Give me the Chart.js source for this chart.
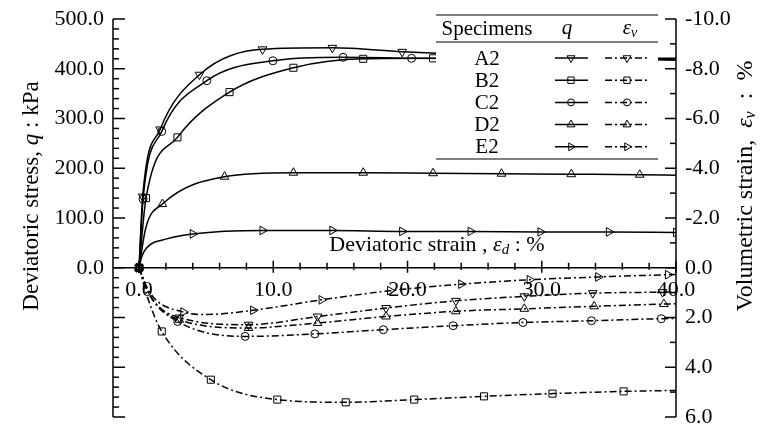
<!DOCTYPE html>
<html>
<head>
<meta charset="utf-8">
<script src="https://cdn.jsdelivr.net/npm/chart.js@4.4.1/dist/chart.umd.min.js"></script>
<style>
    body { margin: 0; background: #fff; }
</style>
</head>
<body>
<canvas id="chart" width="762" height="428"></canvas>
<script>
// values: [deviatoric strain %, value]
var specimens = ["A2", "B2", "C2", "D2", "E2"];

// deviatoric stress q (kPa), points that carry a symbol
var qA2 = [[0,0],[0.27,143],[1.57,278],[4.5,388],[9.2,439],[14.4,442],[19.6,434],[24.8,428],[30,424],[35.1,420]];
var qB2 = [[0,0],[0.52,140],[2.86,262],[6.74,353],[11.5,402],[16.7,420],[21.9,421],[27,421],[32.2,421],[37.3,421]];
var qC2 = [[0,0],[0.3,138],[1.69,274],[5.05,376],[9.97,416],[15.2,423],[20.3,421],[25.5,420],[30.7,420],[35.8,419]];
var qD2 = [[0,0],[1.74,128],[6.37,183],[11.5,191],[16.7,191],[21.9,190],[27,189],[32.2,188],[37.3,187]];
var qE2 = [[0,0],[4,68],[9.2,75],[14.4,75],[19.6,73],[24.7,73],[29.9,72],[35,72],[40,71]];
// extra points on the q curves without a symbol
var qA2Line = [[40,417]];
var qB2Line = [[40,421]];
var qC2Line = [[40,419]];
var qD2Line = [[0.5,80],[40,186]];
var qE2Line = [[0.2,22],[0.57,40],[2.07,58]];

// volumetric strain (%), compression positive
var evA2 = [[0,0],[3,2.0],[8.16,2.29],[13.3,1.96],[18.4,1.62],[23.6,1.33],[28.7,1.15],[33.8,1.02],[39,0.98]];
var evB2 = [[0,0],[1.69,2.56],[5.35,4.5],[10.3,5.3],[15.4,5.41],[20.5,5.3],[25.7,5.17],[30.8,5.06],[36.1,4.97]];
var evC2 = [[0,0],[2.88,2.16],[7.9,2.76],[13.1,2.66],[18.2,2.49],[23.4,2.33],[28.6,2.2],[33.7,2.13],[38.9,2.05]];
var evD2 = [[0,0],[3,2.09],[8.16,2.42],[13.3,2.22],[18.4,1.96],[23.6,1.75],[28.7,1.65],[33.9,1.55],[39.1,1.46]];
var evE2 = [[0,0],[3.3,1.78],[8.5,1.71],[13.6,1.29],[18.7,0.92],[24,0.66],[29.1,0.48],[34.2,0.37],[39.4,0.28]];
var evA2Line = [[0.8,1.1],[40,0.97]];
var evB2Line = [[0.7,1.3],[40,4.93]];
var evC2Line = [[0.8,1.1],[40,2.04]];
var evD2Line = [[0.8,1.1],[40,1.45]];
var evE2Line = [[0.8,1.0],[5,1.88],[40,0.27]];

// axis ticks
var qTicks = [0, 100, 200, 300, 400, 500];
var evTicks = [-10, -8, -6, -4, -2, 0, 2, 4, 6];
var strainTicks = [0, 10, 20, 30, 40];

var FONT = '"Liberation Serif", "Times New Roman", serif';
var styles = {
    A2: { pointStyle: 'triangle', rotation: 180, radius: 5 },
    B2: { pointStyle: 'rect', rotation: 0, radius: 5 },
    C2: { pointStyle: 'circle', rotation: 0, radius: 4 },
    D2: { pointStyle: 'triangle', rotation: 0, radius: 5 },
    E2: { pointStyle: 'triangle', rotation: 90, radius: 5 }
};
var DASH = [7, 3, 2, 3];

function merge(marks, extra) {
    var pts = marks.map(function (p) { return { x: p[0], y: p[1], m: true }; });
    extra.forEach(function (p) { pts.push({ x: p[0], y: p[1], m: false }); });
    pts.sort(function (a, b) { return a.x - b.x; });
    return pts;
}

function makeSet(name, marks, extra, axis, dashed) {
    var st = styles[name];
    return {
        label: name + (dashed ? ' ev' : ' q'),
        data: merge(marks, extra),
        yAxisID: axis,
        showLine: true,
        borderColor: '#000',
        borderWidth: 1.5,
        borderDash: dashed ? DASH : [],
        backgroundColor: 'rgba(0,0,0,0)',
        cubicInterpolationMode: 'monotone',
        pointStyle: st.pointStyle,
        rotation: st.rotation,
        pointRadius: function (c) { return c.raw && c.raw.m ? st.radius : 0; },
        pointBorderColor: '#000',
        pointBorderWidth: 1,
        pointBackgroundColor: 'rgba(0,0,0,0)'
    };
}

function line(ctx, x1, y1, x2, y2) {
    ctx.beginPath();
    ctx.moveTo(x1, y1);
    ctx.lineTo(x2, y2);
    ctx.stroke();
}

// text made of parts: [text, italic, size, dy]
function richText(ctx, parts, x, y) {
    var total = 0;
    parts.forEach(function (p) {
        ctx.font = (p[1] ? 'italic ' : '') + p[2] + 'px ' + FONT;
        p.w = ctx.measureText(p[0]).width;
        total += p.w;
    });
    var cx = x - total / 2;
    ctx.textAlign = 'left';
    ctx.textBaseline = 'middle';
    parts.forEach(function (p) {
        ctx.font = (p[1] ? 'italic ' : '') + p[2] + 'px ' + FONT;
        ctx.fillText(p[0], cx, y + (p[3] || 0));
        cx += p.w;
    });
}

var axesPlugin = {
    id: 'axesPlugin',
    afterDatasetsDraw: function (chart) {
        var ctx = chart.ctx;
        var xs = chart.scales.x, ys = chart.scales.y, vs = chart.scales.y2;
        var a = chart.chartArea;
        var y0 = ys.getPixelForValue(0);
        var v, p;
        ctx.save();
        ctx.strokeStyle = '#000';
        ctx.fillStyle = '#000';
        ctx.lineWidth = 1.5;
        ctx.setLineDash([]);

        line(ctx, a.left, a.top, a.left, a.bottom);
        line(ctx, a.right, a.top, a.right, a.bottom);
        line(ctx, a.left, y0, a.right, y0);

        // left axis ticks
        for (v = ys.min; v <= ys.max; v += 20) {
            p = ys.getPixelForValue(v);
            line(ctx, a.left, p, a.left + (v % 100 === 0 ? 12 : 6), p);
        }
        // right axis ticks
        for (v = vs.min; v <= vs.max; v += 1) {
            p = vs.getPixelForValue(v);
            line(ctx, a.right, p, a.right - (v % 2 === 0 ? 11 : 6), p);
        }
        // strain axis ticks
        for (v = 0; v <= 40; v += 2) {
            p = xs.getPixelForValue(v);
            if (v % 10 === 0) line(ctx, p, y0 - 7, p, y0 + 5);
            else line(ctx, p, y0 - 5, p, y0 + 2);
        }

        ctx.font = '22px ' + FONT;
        ctx.textBaseline = 'middle';
        ctx.textAlign = 'right';
        qTicks.forEach(function (t) {
            ctx.fillText(t.toFixed(1), a.left - 9, ys.getPixelForValue(t));
        });
        ctx.textAlign = 'left';
        evTicks.forEach(function (t) {
            ctx.fillText(t.toFixed(1), a.right + 9, vs.getPixelForValue(t));
        });
        ctx.textAlign = 'center';
        strainTicks.forEach(function (t) {
            ctx.fillText(t.toFixed(1), xs.getPixelForValue(t), y0 + 22);
        });

        // axis titles
        richText(ctx, [['Deviatoric strain , ', false, 22], ['\u03b5', true, 22], ['d', true, 15, 5], [' : %', false, 22]], 437, 245);

        ctx.save();
        ctx.translate(32, 196);
        ctx.rotate(-Math.PI / 2);
        richText(ctx, [['Deviatoric stress, ', false, 23], ['q', true, 23], [' : kPa', false, 23]], 0, 0);
        ctx.restore();

        ctx.save();
        ctx.translate(746, 186);
        ctx.rotate(-Math.PI / 2);
        richText(ctx, [['Volumetric strain,  ', false, 24], ['\u03b5', true, 24], ['v', true, 16, 5], ['  :  %', false, 24]], 0, 0);
        ctx.restore();

        // legend table
        var L = 436, R = 658;
        ctx.fillStyle = '#fff';
        ctx.fillRect(L, 14, R - L, 146);
        ctx.fillStyle = '#000';
        ctx.lineWidth = 1.2;
        line(ctx, L, 15, R, 15);
        line(ctx, L, 42, R, 42);
        line(ctx, L, 159, R, 159);
        richText(ctx, [['Specimens', false, 21]], 487, 29);
        richText(ctx, [['q', true, 21]], 567, 28);
        richText(ctx, [['\u03b5', true, 21], ['v', true, 14, 5]], 630, 28);

        specimens.forEach(function (name, i) {
            var ry = 58 + i * 22.2;
            var st = styles[name];
            ctx.fillStyle = '#000';
            richText(ctx, [[name, false, 21]], 487, ry + 1);
            ctx.lineWidth = 1.5;
            ctx.setLineDash([]);
            line(ctx, 555, ry, 588, ry);
            ctx.setLineDash(DASH);
            line(ctx, 605, ry, 650, ry);
            ctx.setLineDash([]);
            ctx.lineWidth = 1;
            ctx.fillStyle = 'rgba(0,0,0,0)';
            var opt = { pointStyle: st.pointStyle, rotation: st.rotation, radius: st.radius - 0.5, borderWidth: 1 };
            Chart.helpers.drawPoint(ctx, opt, 571, ry);
            Chart.helpers.drawPoint(ctx, opt, 627, ry);
        });
        ctx.restore();
    }
};

new Chart(document.getElementById("chart"), {
    type: 'scatter',
    data: {
        datasets: [
            makeSet('A2', qA2, qA2Line, 'y', false),
            makeSet('B2', qB2, qB2Line, 'y', false),
            makeSet('C2', qC2, qC2Line, 'y', false),
            makeSet('D2', qD2, qD2Line, 'y', false),
            makeSet('E2', qE2, qE2Line, 'y', false),
            makeSet('A2', evA2, evA2Line, 'y2', true),
            makeSet('B2', evB2, evB2Line, 'y2', true),
            makeSet('C2', evC2, evC2Line, 'y2', true),
            makeSet('D2', evD2, evD2Line, 'y2', true),
            makeSet('E2', evE2, evE2Line, 'y2', true)
        ]
    },
    options: {
        responsive: false,
        devicePixelRatio: 1,
        animation: false,
        layout: { padding: { left: 113, right: 86, top: 19, bottom: 11 } },
        plugins: { legend: { display: false }, tooltip: { enabled: false } },
        scales: {
            x: { type: 'linear', min: -1.94, max: 40, display: false },
            y: { type: 'linear', min: -300, max: 500, display: false },
            y2: { type: 'linear', min: -10, max: 6, reverse: true, display: false }
        }
    },
    plugins: [axesPlugin]
});
</script>
</body>
</html>
